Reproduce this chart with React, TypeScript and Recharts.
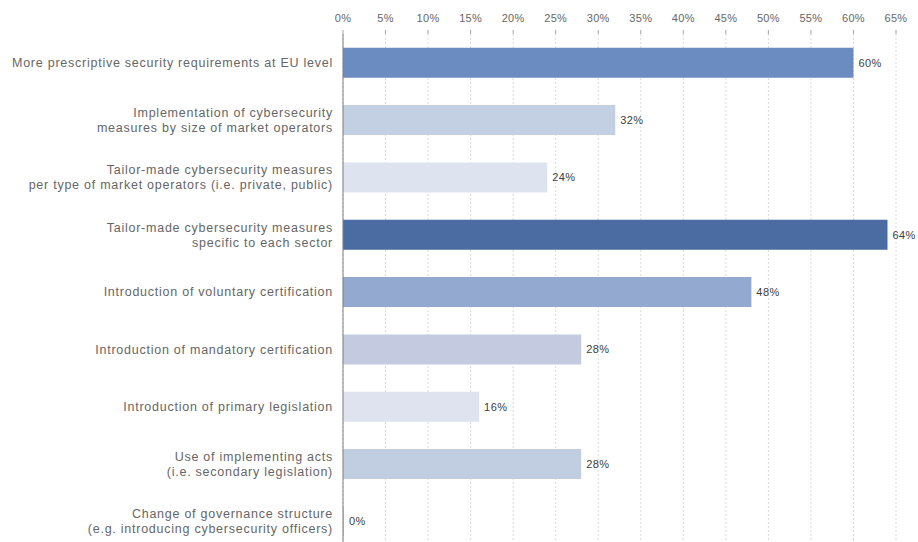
import React from 'react';
import { BarChart, Bar, XAxis, YAxis, CartesianGrid, Cell, LabelList } from 'recharts';

const categories = [
  'More prescriptive security requirements at EU level',
  'Implementation of cybersecurity\nmeasures by size of market operators',
  'Tailor-made cybersecurity measures\nper type of market operators (i.e. private, public)',
  'Tailor-made cybersecurity measures\nspecific to each sector',
  'Introduction of voluntary certification',
  'Introduction of mandatory certification',
  'Introduction of primary legislation',
  'Use of implementing acts\n(i.e. secondary legislation)',
  'Change of governance structure\n(e.g. introducing cybersecurity officers)',
];

const shares = [60, 32, 24, 64, 48, 28, 16, 28, 0];

const barColors = [
  '#6b8cc0', '#c3cfe2', '#dde3ef', '#4a6ca2', '#93a9d0',
  '#c4cbe0', '#dee3ef', '#c1cee2', '#c1cee2',
];

const xTicks = [0, 5, 10, 15, 20, 25, 30, 35, 40, 45, 50, 55, 60, 65];

const data = categories.map((name, i) => ({ name, value: shares[i], color: barColors[i] }));

const FONT = '"Liberation Sans", Arial, sans-serif';

const CategoryTick = (props: any) => {
  const { x, y, payload } = props;
  const lines: string[] = String(payload.value).split('\n');
  const lh = 15;
  const start = -((lines.length - 1) * lh) / 2;
  return (
    <g transform={`translate(${x - 2},${y})`}>
      {lines.map((line, i) => (
        <text
          key={i}
          x={0}
          y={start + i * lh}
          dy="0.35em"
          textAnchor="end"
          fontSize={12.5}
          letterSpacing={0.75}
          fontFamily={FONT}
          fill="#666666"
        >
          {line}
        </text>
      ))}
    </g>
  );
};

// value label drawn for every bar, including the empty one
const ValueLabel = (props: any) => {
  const { x, y, width, height, value } = props;
  return (
    <text
      x={Number(x) + Number(width) + 5}
      y={Number(y) + Number(height) / 2}
      dy="0.35em"
      fontSize={11}
      letterSpacing={0.4}
      fontFamily={FONT}
      fill="#404040"
    >
      {`${value}%`}
    </text>
  );
};

export default function App() {
  return (
    <div style={{ position: 'fixed', left: 0, top: 0, width: 918, height: 542, overflow: 'hidden', background: '#fff' }}>
      <BarChart
        width={918}
        height={560}
        data={data}
        layout="vertical"
        margin={{ top: 10, right: 22, bottom: 10, left: 0 }}
        barCategoryGap="24%"
        style={{ overflow: 'visible' }}
      >
        <CartesianGrid horizontal={false} stroke="#d9d9d9" strokeDasharray="2 2" />
        <XAxis
          type="number"
          orientation="top"
          domain={[0, 65]}
          ticks={xTicks}
          tickFormatter={(v: number) => `${v}%`}
          axisLine={false}
          tickLine={{ stroke: '#a6a6a6' }}
          tickSize={4}
          tickMargin={8}
          height={24}
          interval={0}
          tick={{ fontSize: 11, fill: '#666666', fontFamily: FONT, letterSpacing: 0.3 }}
        />
        <YAxis
          type="category"
          dataKey="name"
          width={343}
          axisLine={{ stroke: '#7f7f7f' }}
          tickLine={false}
          interval={0}
          tick={<CategoryTick />}
        />
        <Bar dataKey="value" isAnimationActive={false} minPointSize={1}>
          {data.map((d, i) => (
            <Cell key={i} fill={d.color} />
          ))}
          <LabelList dataKey="value" content={<ValueLabel />} />
        </Bar>
      </BarChart>
    </div>
  );
}
